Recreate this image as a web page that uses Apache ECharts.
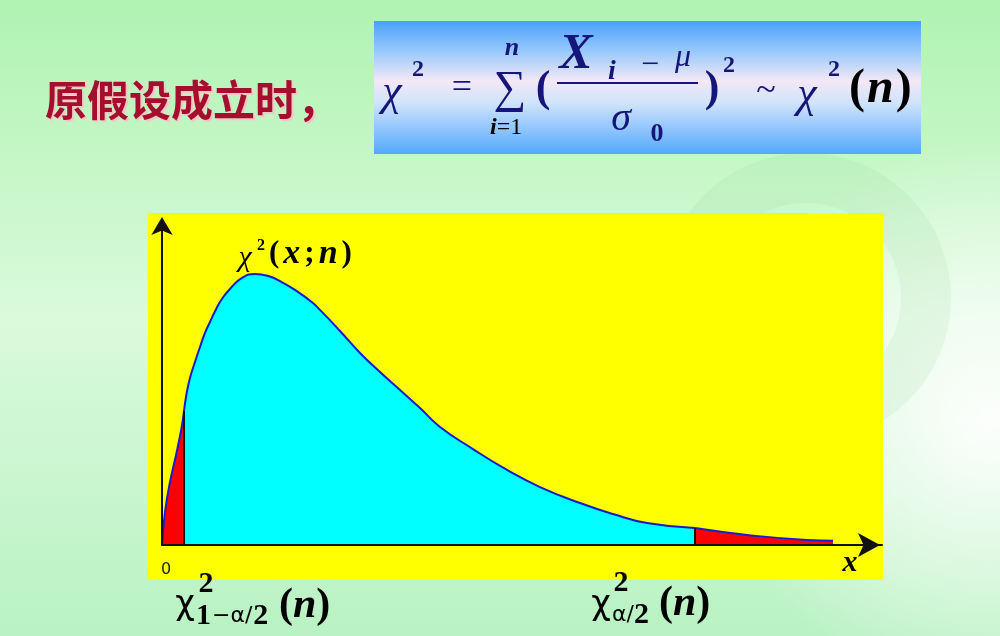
<!DOCTYPE html>
<html><head><meta charset="utf-8">
<script src="https://cdn.jsdelivr.net/npm/echarts@6/dist/echarts.min.js"></script>
<style>html,body{margin:0;padding:0;background:#c8f6c8;}#c{width:1000px;height:636px;}</style>
</head><body><div id="c"></div>
<script>
// density curve (x in chi-square units, y in density units)
const curveX = [0, 0.017, 0.1, 0.267, 0.49, 0.657, 0.733, 0.817, 0.933, 1.1, 1.267, 1.433, 1.6, 1.823, 2.043, 2.323, 2.657, 3.1, 3.543, 3.99, 4.433, 4.99, 5.267, 5.933, 6.6, 7.267, 7.933, 8.6, 9.267, 10.367, 11.5, 12.6, 13.933, 15.033, 16.167, 17.767, 19.5, 21.5, 22.367];
const curveY = [0, 0.0028, 0.0183, 0.035, 0.0517, 0.0656, 0.0744, 0.0839, 0.0928, 0.1017, 0.11, 0.1178, 0.1239, 0.1317, 0.1378, 0.1433, 0.1483, 0.1506, 0.1494, 0.1461, 0.1417, 0.135, 0.1306, 0.1189, 0.1067, 0.0961, 0.0861, 0.0761, 0.0656, 0.0533, 0.0417, 0.0322, 0.0233, 0.0172, 0.0122, 0.0094, 0.0056, 0.0028, 0.0024];
const lowerCut = 0.733;   // chi2_{1-a/2}(n)
const upperCut = 17.767;  // chi2_{a/2}(n)
const xTickLabels = ['0'];
const titleText = '原假设成立时，';

const pts = curveX.map((x, i) => [x, curveY[i]]);
const leftTail = pts.filter(p => p[0] <= lowerCut);
const body = pts.filter(p => p[0] >= lowerCut && p[0] <= upperCut);
const rightTail = pts.filter(p => p[0] >= upperCut);
const yAtLower = curveY[curveX.indexOf(lowerCut)];
const yAtUpper = curveY[curveX.indexOf(upperCut)];

const NAVY = '#15157a';
const SERIF = "'Liberation Serif', 'DejaVu Serif', serif";
const SANS = "'DejaVu Sans', sans-serif";
function T(x, y, text, font, fill, align) {
  return { type: 'text', x: x, y: y, z: 20,
    style: { text: text, font: font, fill: fill, align: align || 'center', verticalAlign: 'middle' } };
}
function R(x, y, text, rich, align) {
  return { type: 'text', x: x, y: y, z: 20,
    style: { text: text, rich: rich, align: align || 'left', verticalAlign: 'middle' } };
}
function rs(size, bold, italic, color, family, pad) {
  const o = { fontFamily: family || SERIF, fontSize: size, color: color };
  if (bold) o.fontWeight = 'bold';
  if (italic) o.fontStyle = 'italic';
  if (pad) o.padding = pad;
  return o;
}

const graphics = [
  { type: 'circle', z: -20, shape: { cx: 990, cy: 420, r: 280 },
    style: { fill: new echarts.graphic.RadialGradient(0.5, 0.5, 0.5, [
      { offset: 0, color: 'rgba(255,255,255,0.95)' },
      { offset: 1, color: 'rgba(255,255,255,0)' }]) } },
  { type: 'ring', z: -15, shape: { cx: 806, cy: 298, r: 145, r0: 95 },
    style: { fill: 'rgba(140,205,150,0.13)' } },
  { type: 'rect', z: -10, shape: { x: 148, y: 213, width: 735, height: 367 },
    style: { fill: '#ffff00' } },
  { type: 'rect', z: -10, shape: { x: 374, y: 21, width: 547, height: 133 },
    style: { fill: new echarts.graphic.LinearGradient(0, 0, 0, 1, [
      { offset: 0, color: '#4aa0fb' },
      { offset: 0.22, color: '#95c8fa' },
      { offset: 0.45, color: '#f3e8f6' },
      { offset: 0.62, color: '#cfe3fb' },
      { offset: 1, color: '#52a8fc' }]) } },
  // title
  { type: 'text', x: 45, y: 100, z: 20,
    style: { text: titleText, font: "bold 42px 'Noto Sans CJK SC'", fill: '#a50f2d', align: 'left', verticalAlign: 'middle',
      textShadowColor: 'rgba(255,190,200,0.9)', textShadowOffsetX: 2, textShadowOffsetY: 2, textShadowBlur: 1 } },
  // formula
  T(392, 93, 'χ', 'italic 44px ' + SERIF, NAVY),
  T(418, 70, '2', 'bold 24px ' + SERIF, NAVY),
  T(462, 89, '=', '36px ' + SERIF, NAVY),
  T(510, 90, '∑', '46px ' + SERIF, NAVY),
  T(512, 48, 'n', 'bold italic 26px ' + SERIF, NAVY),
  R(490, 128, '{i|i}{e|=1}', { i: rs(24, true, true, NAVY), e: rs(24, false, false, NAVY) }),
  T(543, 90, '(', 'bold 44px ' + SERIF, NAVY),
  T(576, 55, 'X', 'bold italic 50px ' + SERIF, NAVY),
  T(612, 72, 'i', 'bold italic 28px ' + SERIF, NAVY),
  T(650, 66, '−', '32px ' + SERIF, NAVY),
  T(683, 58, 'μ', 'italic 32px ' + SERIF, NAVY),
  { type: 'line', z: 20, shape: { x1: 557, y1: 83, x2: 698, y2: 83 }, style: { stroke: NAVY, lineWidth: 2 } },
  T(621, 119, 'σ', 'italic 40px ' + SERIF, NAVY),
  T(657, 134, '0', 'bold 26px ' + SERIF, NAVY),
  T(712, 90, ')', 'bold 44px ' + SERIF, NAVY),
  T(729, 66, '2', 'bold 24px ' + SERIF, NAVY),
  T(766, 92, '~', '36px ' + SERIF, NAVY),
  T(807, 95, 'χ', 'italic 44px ' + SERIF, NAVY),
  T(834, 70, '2', 'bold 24px ' + SERIF, NAVY),
  R(849, 90, '{p|(}{n|n}{p|)}', { p: rs(48, true, false, NAVY), n: rs(48, true, true, NAVY, SERIF, [0, 2, 0, 2]) }),
  // curve label
  T(245, 258, 'χ', 'italic 30px ' + SERIF, '#000'),
  T(261, 246, '2', 'bold 16px ' + SERIF, '#000'),
  R(267, 254, '{p|(}{v|x}{p|;}{v|n}{p|)}', { p: rs(31, true, false, '#000', SERIF, [0, 2, 0, 2]),
    v: rs(34, true, true, '#000', SERIF, [0, 2, 0, 2]) }),
  // axis end label
  T(850, 563, 'x', 'bold italic 30px ' + SERIF, '#000'),
  // lower quantile label
  T(185, 605, 'χ', '34px ' + SANS, '#000'),
  T(206, 584, '2', 'bold 30px ' + SERIF, '#000'),
  R(196, 616, '{b|1}{s|−α/}{b|2}', { b: rs(30, true, false, '#000'), s: rs(22, false, false, '#000', SANS, [0, 1, 0, 1]) }),
  R(279, 606, '{p|(}{n|n}{p|)}', { p: rs(42, true, false, '#000'), n: rs(42, true, true, '#000') }),
  // upper quantile label
  T(601, 605, 'χ', '34px ' + SANS, '#000'),
  T(621, 583, '2', 'bold 30px ' + SERIF, '#000'),
  R(612, 615, '{s|α/}{b|2}', { b: rs(30, true, false, '#000'), s: rs(22, false, false, '#000', SANS) }),
  R(659, 604, '{p|(}{n|n}{p|)}', { p: rs(42, true, false, '#000'), n: rs(42, true, true, '#000') })
];

const curveLine = { color: '#1a1ad0', width: 2 };
const chart = echarts.init(document.getElementById('c'), null, { renderer: 'canvas' });
chart.setOption({
  animation: false,
  backgroundColor: new echarts.graphic.LinearGradient(0, 0, 0, 1, [
    { offset: 0, color: '#b0f3b2' },
    { offset: 0.5, color: '#dafadb' },
    { offset: 1, color: '#b9f2c3' }]),
  grid: { left: 162, right: 118, top: 221, bottom: 91 },
  xAxis: {
    type: 'value', min: 0, max: 24, interval: 24, z: 5,
    axisLine: { show: true, onZero: false, symbol: ['none', 'arrow'], symbolSize: [18, 22], symbolOffset: [0, -2],
      lineStyle: { color: '#111', width: 2 } },
    axisTick: { show: false }, splitLine: { show: false },
    axisLabel: { show: true, margin: 17, color: '#222', fontSize: 16, fontFamily: 'DejaVu Sans',
      padding: [0, 0, 0, 8], formatter: v => (v === 0 ? xTickLabels[0] : '') }
  },
  yAxis: {
    type: 'value', min: 0, max: 0.18, interval: 0.18, z: 5,
    axisLine: { show: true, symbol: ['none', 'arrow'], symbolSize: [16, 18], symbolOffset: [0, 4],
      lineStyle: { color: '#111', width: 2 } },
    axisTick: { show: false }, splitLine: { show: false }, axisLabel: { show: false }
  },
  graphic: graphics,
  series: [
    { type: 'line', data: leftTail, showSymbol: false, smooth: 0.5, lineStyle: curveLine,
      areaStyle: { color: '#ff0000', opacity: 1 } },
    { type: 'line', data: body, showSymbol: false, smooth: 0.5, lineStyle: curveLine,
      areaStyle: { color: '#00ffff', opacity: 1 } },
    { type: 'line', data: rightTail, showSymbol: false, smooth: 0.5, lineStyle: curveLine,
      areaStyle: { color: '#ff0000', opacity: 1 } },
    { type: 'line', data: [[lowerCut, 0], [lowerCut, yAtLower]], showSymbol: false, z: 4,
      lineStyle: { color: '#111', width: 2 } },
    { type: 'line', data: [[upperCut, 0], [upperCut, yAtUpper]], showSymbol: false, z: 4,
      lineStyle: { color: '#111', width: 2 } }
  ]
});
</script></body></html>
